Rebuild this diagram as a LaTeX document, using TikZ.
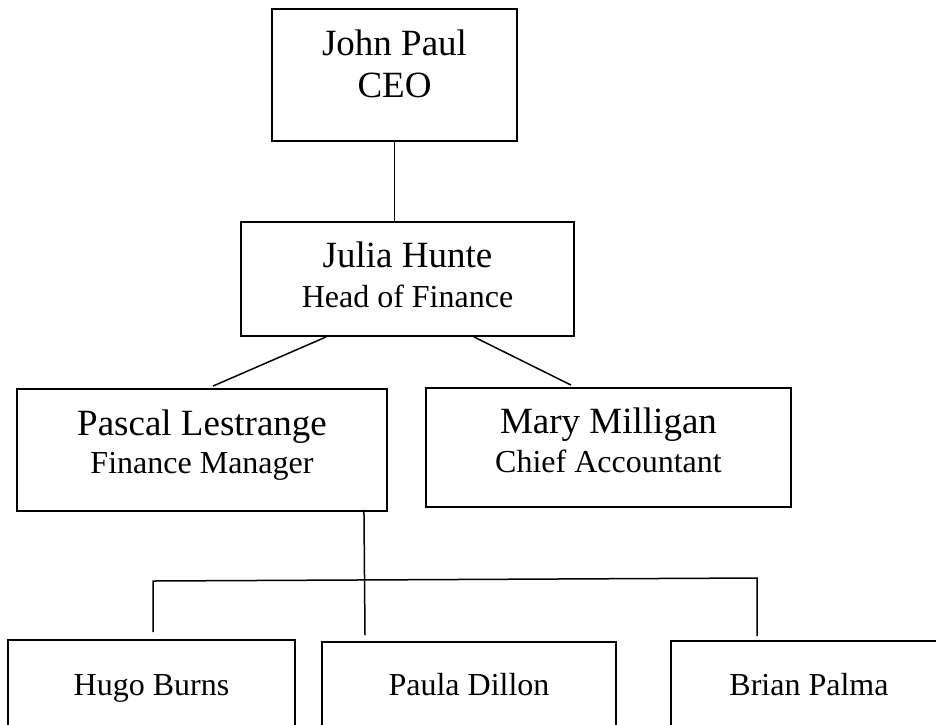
\documentclass[tikz,border=0pt]{standalone}
\usepackage{fontspec}
\setmainfont{Liberation Serif}
\tikzset{
  box/.style={draw=black, line width=1.9pt, inner sep=0pt, fill=white},
  conn/.style={draw=black, line width=1.5pt},
  bigname/.style={anchor=base, inner sep=0pt, font=\fontsize{37}{44}\selectfont},
  smalltxt/.style={anchor=base, inner sep=0pt, font=\fontsize{32}{38}\selectfont}
}
\begin{document}
\begin{tikzpicture}[x=1pt,y=-1pt]
\useasboundingbox (0,0) rectangle (936,724);
\fill[white] (0,0) rectangle (936,724);
\clip (0,0) rectangle (936,724);
% boxes
\node[box, minimum width=245pt, minimum height=132pt] (ceo) at (394.5,75) {};
\node[box, minimum width=333pt, minimum height=114pt] (julia) at (407.5,279) {};
\node[box, minimum width=370pt, minimum height=122pt] (pascal) at (202,450) {};
\node[box, minimum width=365pt, minimum height=119pt] (mary) at (608.5,447.5) {};
\node[box, minimum width=287pt, minimum height=120pt] (hugo) at (151.5,700) {};
\node[box, minimum width=294pt, minimum height=120pt] (paula) at (469,702) {};
\node[box, minimum width=276pt, minimum height=120pt] (brian) at (809,701) {};
% texts
\node[bigname] (t1) at (394.5,55) {John Paul};
\node[bigname] (t2) at (394.5,97) {CEO};
\node[bigname] (t3) at (407.5,267) {Julia Hunte};
\node[smalltxt] (t4) at (407.5,307) {Head of Finance};
\node[bigname] (t5) at (202,435) {Pascal Lestrange};
\node[smalltxt] (t6) at (202,473) {Finance Manager};
\node[bigname] (t7) at (608.5,433) {Mary Milligan};
\node[smalltxt] (t8) at (608.5,472) {Chief Accountant};
\node[smalltxt] (t9) at (151.5,695) {Hugo Burns};
\node[smalltxt] (t10) at (469,695) {Paula Dillon};
\node[smalltxt] (t11) at (809,695) {Brian Palma};
% connectors
\draw[conn] (ceo.south) -- (ceo.south |- julia.north);
\draw[conn] ([xshift=86pt]julia.south west) -- ([xshift=11pt,yshift=2pt]pascal.north);
\draw[conn] ([xshift=66.5pt]julia.south) -- ([xshift=-37.5pt,yshift=2pt]mary.north);
\draw[conn] ([xshift=-24pt,yshift=2pt]pascal.south east) -- ([xshift=-104pt,yshift=6pt]paula.north);
\coordinate (bl) at (153,581);
\coordinate (br) at (757,578);
\draw[conn] ([xshift=1.5pt,yshift=7pt]hugo.north) -- (bl) -- (br) -- ([xshift=-52pt,yshift=4pt]brian.north);
\end{tikzpicture}
\end{document}
